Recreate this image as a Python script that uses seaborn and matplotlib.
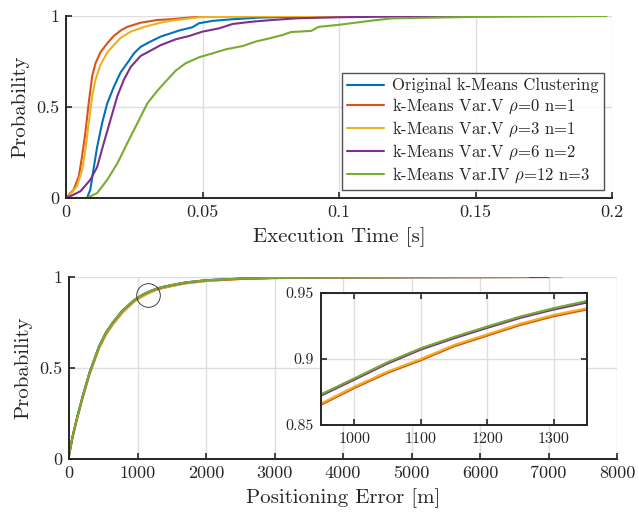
import numpy as np
import pandas as pd
import matplotlib
matplotlib.use("Agg")
import matplotlib.pyplot as plt
import seaborn as sns

# series labels and MATLAB default colours
series_names = [
    "Original k-Means Clustering",
    r"k-Means Var.V $\rho$=0 n=1",
    r"k-Means Var.V $\rho$=3 n=1",
    r"k-Means Var.V $\rho$=6 n=2",
    r"k-Means Var.IV $\rho$=12 n=3",
]
series_colors = ["#0072BD", "#D95319", "#EDB120", "#7E2F8E", "#77AC30"]

# ---- execution time CDFs ----
time_orig = [0.0077, 0.0089, 0.0102, 0.0114, 0.0132, 0.0151, 0.0175, 0.020, 0.0224, 0.0249,
             0.0273, 0.031, 0.0347, 0.0384, 0.0414, 0.0463, 0.0487, 0.0536, 0.061, 0.0708,
             0.0843, 0.100, 0.1235]
prob_orig = [0.0, 0.046, 0.17, 0.28, 0.41, 0.52, 0.61, 0.69, 0.74, 0.795,
             0.83, 0.86, 0.887, 0.905, 0.92, 0.938, 0.96, 0.973, 0.982, 0.991,
             0.996, 0.998, 1.0]

time_v0 = [0.0, 0.0028, 0.0047, 0.0059, 0.0071, 0.0083, 0.0096, 0.0108, 0.0126, 0.0151,
           0.0175, 0.020, 0.0224, 0.0273, 0.0335, 0.0384, 0.0487, 0.060, 0.080, 0.100, 0.1167]
prob_v0 = [0.0, 0.046, 0.12, 0.23, 0.36, 0.52, 0.67, 0.74, 0.80, 0.85,
           0.89, 0.92, 0.94, 0.963, 0.978, 0.982, 0.996, 0.998, 0.999, 0.9995, 1.0]

time_v3 = [0.0, 0.001, 0.004, 0.0059, 0.0071, 0.0083, 0.0096, 0.0108, 0.0126, 0.0151,
           0.0175, 0.020, 0.0237, 0.0286, 0.0347, 0.0384, 0.0487, 0.060, 0.080, 0.100, 0.1167]
prob_v3 = [0.0, 0.01, 0.064, 0.155, 0.265, 0.41, 0.56, 0.65, 0.73, 0.80,
           0.84, 0.88, 0.914, 0.94, 0.963, 0.974, 0.993, 0.997, 0.999, 0.9995, 1.0]

time_v6 = [0.0, 0.0016, 0.0053, 0.0089, 0.0114, 0.0138, 0.0163, 0.0188, 0.0212, 0.0237,
           0.0273, 0.031, 0.0347, 0.0402, 0.0451, 0.050, 0.0561, 0.061, 0.0684, 0.0757,
           0.0843, 0.100, 0.120, 0.1468]
prob_v6 = [0.0, 0.01, 0.037, 0.10, 0.17, 0.30, 0.43, 0.56, 0.65, 0.72,
           0.78, 0.81, 0.84, 0.872, 0.89, 0.914, 0.932, 0.956, 0.969, 0.978,
           0.987, 0.993, 0.997, 1.0]

time_iv12 = [0.0, 0.0077, 0.0114, 0.0151, 0.0188, 0.0224, 0.0261, 0.0298, 0.0335, 0.0365,
             0.0402, 0.0438, 0.0487, 0.0549, 0.0586, 0.0647, 0.0696, 0.0745, 0.0794, 0.0825,
             0.0898, 0.0925, 0.1008, 0.1106, 0.1193, 0.1498, 0.198]
prob_iv12 = [0.0, 0.0, 0.027, 0.10, 0.19, 0.30, 0.41, 0.52, 0.59, 0.64,
             0.70, 0.74, 0.773, 0.80, 0.817, 0.835, 0.86, 0.877, 0.896, 0.912,
             0.918, 0.94, 0.953, 0.972, 0.987, 0.995, 1.0]

# ---- positioning error CDFs ----
err_grid = [0, 50, 120, 200, 300, 440, 540, 640, 780, 950, 1000, 1050, 1100, 1150, 1200,
            1250, 1300, 1350, 1500, 1700, 2000, 2500, 3000, 3500, 4000, 5000, 6000]
perr_orig = [0.02, 0.12, 0.23, 0.345, 0.475, 0.62, 0.695, 0.75, 0.815, 0.8729, 0.8850,
             0.8972, 0.9078, 0.9164, 0.9243, 0.9319, 0.9382, 0.9437, 0.956, 0.970, 0.982,
             0.991, 0.995, 0.997, 0.998, 0.999, 0.9995]
perr_v0 = [0.02, 0.117, 0.225, 0.338, 0.466, 0.610, 0.684, 0.739, 0.804, 0.8653, 0.878,
           0.8895, 0.899, 0.9096, 0.9177, 0.9258, 0.9324, 0.9375, 0.950, 0.965, 0.978,
           0.989, 0.994, 0.996, 0.997, 0.999, 0.9995]
perr_v3 = [0.02, 0.118, 0.226, 0.34, 0.468, 0.612, 0.686, 0.741, 0.806, 0.8663, 0.879,
           0.8905, 0.900, 0.9106, 0.9187, 0.9268, 0.9334, 0.9385, 0.951, 0.966, 0.979,
           0.989, 0.994, 0.996, 0.997, 0.999, 0.9995]
perr_v6 = [0.02, 0.12, 0.23, 0.345, 0.475, 0.62, 0.695, 0.75, 0.815, 0.8722, 0.8843,
           0.8965, 0.9071, 0.9157, 0.9236, 0.9312, 0.9375, 0.9428, 0.955, 0.969, 0.982,
           0.991, 0.995, 0.997, 0.998, 0.999, 0.9995]
perr_iv12 = [0.02, 0.12, 0.23, 0.345, 0.475, 0.62, 0.695, 0.75, 0.815, 0.8732, 0.8853,
             0.8975, 0.9081, 0.9167, 0.9246, 0.9322, 0.9385, 0.9440, 0.956, 0.970, 0.982,
             0.991, 0.995, 0.997, 0.998, 0.999, 0.9995]
err_end = [6500, 7100, 7200, 7000, 6700]   # largest error of each series (prob = 1)

# zoom window shown in the inset
zoom_xlim = [950, 1350]
zoom_ylim = [0.85, 0.95]

# ---- build long tables ----
time_df = pd.concat([
    pd.DataFrame({"t": t, "p": p, "series": name})
    for t, p, name in zip([time_orig, time_v0, time_v3, time_v6, time_iv12],
                          [prob_orig, prob_v0, prob_v3, prob_v6, prob_iv12], series_names)
], ignore_index=True)

err_df = pd.concat([
    pd.DataFrame({"e": err_grid + [end], "p": p + [1.0], "series": name})
    for p, end, name in zip([perr_orig, perr_v0, perr_v3, perr_v6, perr_iv12],
                            err_end, series_names)
], ignore_index=True)

# ---- style ----
sns.set_theme(style="white")
plt.rcParams["font.family"] = "serif"
plt.rcParams["font.serif"] = ["cmr10"]
plt.rcParams["mathtext.fontset"] = "cm"
plt.rcParams["axes.formatter.use_mathtext"] = True

palette = dict(zip(series_names, series_colors))
axis_col = "#262626"
grid_col = "#dedede"


def style_axes(ax, boxed=False, tick_size=13):
    for side in ["left", "bottom", "top", "right"]:
        ax.spines[side].set_visible(boxed or side in ("left", "bottom"))
        ax.spines[side].set_color(axis_col)
        ax.spines[side].set_linewidth(1.4)
    ax.grid(True, color=grid_col, linewidth=1.0)
    ax.set_axisbelow(True)
    ax.tick_params(direction="in", length=4, width=1.2, color=axis_col,
                   labelsize=tick_size, labelcolor=axis_col, pad=5,
                   top=boxed, right=boxed, left=True, bottom=True)


fig = plt.figure(figsize=(6.39, 5.12), dpi=100)

# top: execution time
ax1 = fig.add_axes([0.1033, 0.6133, 0.8545, 0.3555])
sns.lineplot(data=time_df, x="t", y="p", hue="series", hue_order=series_names,
             palette=palette, estimator=None, sort=False, linewidth=1.5, ax=ax1)
ax1.set_xlim(0, 0.2)
ax1.set_ylim(0, 1)
ax1.set_xticks([0, 0.05, 0.1, 0.15, 0.2])
ax1.set_xticklabels(["0", "0.05", "0.1", "0.15", "0.2"])
ax1.set_yticks([0, 0.5, 1])
ax1.set_yticklabels(["0", "0.5", "1"])
ax1.set_xlabel("Execution Time [s]", fontsize=15, color=axis_col, labelpad=5)
ax1.set_ylabel("Probability", fontsize=15, color=axis_col, labelpad=5)
style_axes(ax1)
leg = ax1.legend(loc="lower right", fontsize=12, frameon=True, fancybox=False,
                 edgecolor=axis_col, handlelength=2.2, labelspacing=0.2,
                 borderpad=0.3, handletextpad=0.5, borderaxespad=0.5)
leg.get_frame().set_linewidth(1.0)
for h in leg.get_lines():
    h.set_linewidth(1.5)

# bottom: positioning error
ax2 = fig.add_axes([0.108, 0.1035, 0.8576, 0.3555])
sns.lineplot(data=err_df, x="e", y="p", hue="series", hue_order=series_names,
             palette=palette, estimator=None, sort=False, linewidth=1.5, ax=ax2,
             legend=False)
ax2.set_xlim(0, 8000)
ax2.set_ylim(0, 1)
ax2.set_xticks(range(0, 8001, 1000))
ax2.set_xticklabels([str(v) for v in range(0, 8001, 1000)])
ax2.set_yticks([0, 0.5, 1])
ax2.set_yticklabels(["0", "0.5", "1"])
ax2.set_xlabel("Positioning Error [m]", fontsize=15, color=axis_col, labelpad=5)
ax2.set_ylabel("Probability", fontsize=15, color=axis_col, labelpad=5)
style_axes(ax2)
# circle marking the zoomed region
ax2.plot([np.mean(zoom_xlim)], [np.mean(zoom_ylim)], marker="o", markersize=17,
         markerfacecolor="none", markeredgecolor=axis_col, markeredgewidth=0.6)

# inset
ax3 = fig.add_axes([0.5023, 0.1699, 0.4163, 0.2578])
sns.lineplot(data=err_df, x="e", y="p", hue="series", hue_order=series_names,
             palette=palette, estimator=None, sort=False, linewidth=1.5, ax=ax3,
             legend=False)
ax3.set_xlim(*zoom_xlim)
ax3.set_ylim(*zoom_ylim)
ax3.set_xticks([1000, 1100, 1200, 1300])
ax3.set_xticklabels(["1000", "1100", "1200", "1300"])
ax3.set_yticks([0.85, 0.9, 0.95])
ax3.set_yticklabels(["0.85", "0.9", "0.95"])
ax3.set_xlabel("")
ax3.set_ylabel("")
ax3.set_facecolor("white")
style_axes(ax3, boxed=True, tick_size=11.5)

fig.savefig("out.png", dpi=100)
